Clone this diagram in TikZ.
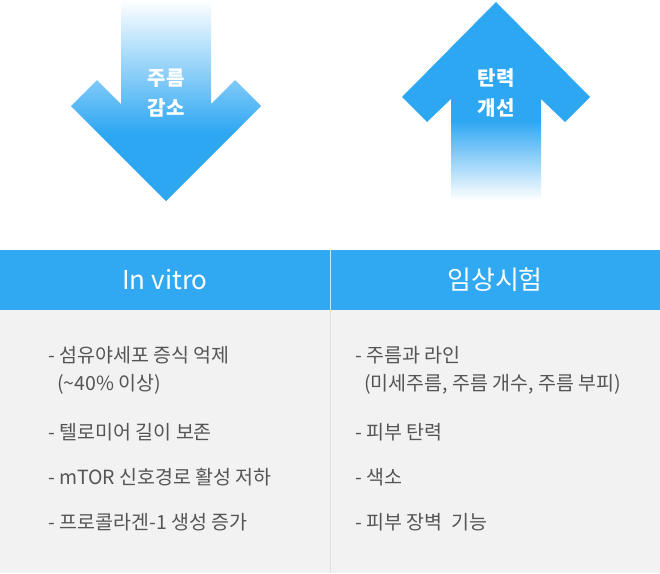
\documentclass[tikz,border=0pt]{standalone}
\usepackage{fontspec}
\setmainfont{Noto Sans CJK KR}
\definecolor{ablue}{HTML}{2EA7F3}
\definecolor{hblue}{HTML}{30A9F2}
\definecolor{bodyg}{HTML}{F2F2F2}
\definecolor{txt}{HTML}{555555}
\pgfdeclareverticalshading{downfade}{100bp}{color(0bp)=(ablue); color(42bp)=(ablue); color(75bp)=(white); color(100bp)=(white)}
\pgfdeclareverticalshading{upfade}{100bp}{color(0bp)=(white); color(25bp)=(white); color(45bp)=(ablue); color(100bp)=(ablue)}
\tikzset{
  lbl/.style={text=white,font=\fontsize{20}{30}\selectfont\bfseries,align=center},
  head/.style={text=white,font=\fontsize{26}{30}\selectfont},
  item/.style={text=txt,font=\fontsize{19.5}{28}\selectfont,anchor=west,align=left}
}
\begin{document}
\begin{tikzpicture}[x=1pt,y=-1pt]
\useasboundingbox (0,0) rectangle (660,573);
\shade[shading=downfade] (121,0) -- (211,0) -- (211,104) -- (235,80) -- (261,106) -- (166,201) -- (71,106) -- (97,80) -- (121,104) -- cycle;
\shade[shading=upfade] (451,200) -- (451,99) -- (427,122) -- (402,97) -- (496,2) -- (590,97) -- (565,122) -- (541,99) -- (541,200) -- cycle;
\node[lbl] (a1) at (166,93) {주름\\감소};
\node[lbl] (a2) at (496,93) {탄력\\개선};
\fill[hblue] (0,250) rectangle (660,310);
\fill[bodyg] (0,310) rectangle (660,573);
\draw[white!75!hblue] (330,250) -- (330,310);
\draw[black!12] (330,310) -- (330,573);
\node[head] (h1) at (165,280) {In vitro};
\node[head] (h2) at (495,280) {임상시험};
\node[item] (l1) at (45,370) {- 섬유야세포 증식 억제\\\ \ (\textasciitilde40\% 이상)};
\node[item] (l2) at (45,432) {- 텔로미어 길이 보존};
\node[item] (l3) at (45,477) {- mTOR 신호경로 활성 저하};
\node[item] (l4) at (45,522) {- 프로콜라겐-1 생성 증가};
\node[item] (r1) at (352,370) {- 주름과 라인\\\ \ (미세주름, 주름 개수, 주름 부피)};
\node[item] (r2) at (352,432) {- 피부 탄력};
\node[item] (r3) at (352,477) {- 색소};
\node[item] (r4) at (352,522) {- 피부 장벽\ \ 기능};
\end{tikzpicture}
\end{document}
